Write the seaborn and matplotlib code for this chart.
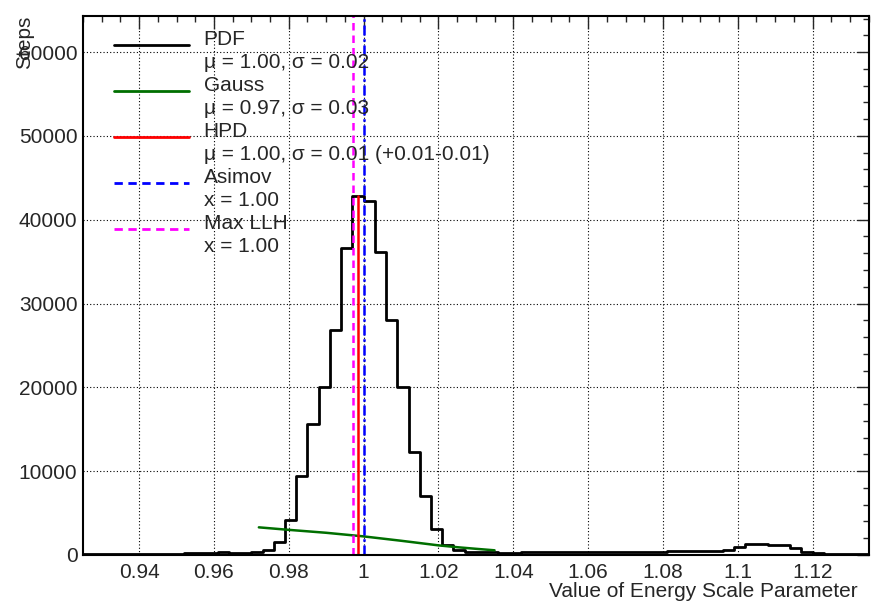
import numpy as np
import pandas as pd
import matplotlib
matplotlib.use("Agg")
import matplotlib.pyplot as plt
from matplotlib.lines import Line2D
from matplotlib.ticker import MultipleLocator
from matplotlib.transforms import ScaledTranslation
import seaborn as sns

# histogram of the energy scale parameter, bins of 0.003 from 0.925
bin_lo = 0.925
bin_w = 0.003
counts = [120, 120, 130, 130, 140, 140, 150, 160, 170, 190, 220, 280, 300, 260, 240,
          300, 650, 1600, 4200, 9450, 15600, 20100, 26900, 36600, 42800,
          42200, 36100, 28000, 20000, 12300, 7000, 3100, 1150, 650, 400,
          330, 300, 280, 290, 300, 300, 310, 320, 330, 340,
          350, 350, 360, 370, 380, 400, 410, 420, 440, 460,
          480, 520, 650, 970, 1320, 1320, 1170, 1170, 820, 340,
          200, 150, 120, 100, 80]

# gauss fit curve
gauss_x = [0.972, 0.98, 0.99, 1.0, 1.01, 1.02, 1.025, 1.03, 1.035]
gauss_y = [3300, 3000, 2650, 2220, 1700, 1150, 930, 740, 560]

hpd_x = 0.9985
asimov_x = 1.000
maxllh_x = 0.9971

labels = ["PDF\n\u03bc = 1.00, \u03c3 = 0.02",
          "Gauss\n\u03bc = 0.97, \u03c3 = 0.03",
          "HPD\n\u03bc = 1.00, \u03c3 = 0.01 (+0.01-0.01)",
          "Asimov\nx = 1.00",
          "Max LLH\nx = 1.00"]

sns.set_style("white")
plt.rcParams['font.family'] = ['Liberation Sans', 'DejaVu Sans']
fs = 15

edges = bin_lo + bin_w * np.arange(len(counts) + 1)
df = pd.DataFrame({"x": (edges[:-1] + edges[1:]) / 2, "w": counts})

fig = plt.figure(figsize=(8.75, 6.13), dpi=100)
ax = fig.add_axes([83 / 875, 1 - 555 / 613, 785.7 / 875, 539 / 613])

sns.histplot(data=df, x="x", weights="w", bins=len(counts),
             binrange=(edges[0], edges[-1]), element="step", fill=False,
             color="black", linewidth=2, ax=ax)
sns.lineplot(x=gauss_x, y=gauss_y, color="#006f00", linewidth=1.8, ax=ax)

ax.axvline(maxllh_x, color="#ff00ff", linestyle=(0, (3, 2)), linewidth=1.8)
ax.axvline(asimov_x, color="#0000ff", linestyle=(0, (4, 1.5, 1, 1.5)), linewidth=1.8)
ax.plot([hpd_x, hpd_x], [0, max(counts)], color="#ff0000", linewidth=1.8)

ax.set_xlim(0.925, 1.135)
ax.set_ylim(0, 64300)

ax.xaxis.set_minor_locator(MultipleLocator(0.005))
ax.yaxis.set_major_locator(MultipleLocator(10000))
ax.yaxis.set_minor_locator(MultipleLocator(2000))
ax.set_xticks(np.arange(0.94, 1.13, 0.02))
ax.set_xticklabels(["0.94", "0.96", "0.98", "1", "1.02", "1.04", "1.06", "1.08", "1.1", "1.12"])
ax.tick_params(which="both", direction="in", top=True, right=True, labelsize=fs, width=1)
ax.tick_params(which="major", length=9)
ax.tick_params(axis="x", which="major", pad=6)
ax.tick_params(axis="y", which="major", pad=4)
ax.tick_params(which="minor", length=4.5)
ax.grid(True, which="major", linestyle=(0, (1, 2)), color="black", linewidth=0.8)
for s in ax.spines.values():
    s.set_linewidth(1.5)
    s.set_color("black")

ax.set_ylabel("Steps", fontsize=fs, loc="top")
ax.yaxis.set_label_coords(-0.062, 1.0)
ax.set_xlabel("Value of Energy Scale Parameter", fontsize=fs, loc="right")
ax.xaxis.set_label_coords(0.986, -0.05)

handles = [Line2D([], [], color="black", linewidth=2),
           Line2D([], [], color="#006f00", linewidth=2),
           Line2D([], [], color="#ff0000", linewidth=2),
           Line2D([], [], color="#0000ff", linewidth=2, linestyle=(0, (3, 2))),
           Line2D([], [], color="#ff00ff", linewidth=2, linestyle=(0, (3, 2)))]
leg = ax.legend(handles, labels, loc="upper left", bbox_to_anchor=(0.029, 0.99),
                frameon=False, fontsize=fs, handlelength=3.6, handletextpad=0.7,
                labelspacing=0.18, borderaxespad=0)
for t in leg.get_texts():
    t.set_linespacing(1.28)
# ROOT puts the sample line nearer the first text line
for ln in leg.get_lines():
    ln.set_transform(ln.get_transform() + ScaledTranslation(0, 0.06, fig.dpi_scale_trans))

fig.savefig("out.png", dpi=100, facecolor="white")
